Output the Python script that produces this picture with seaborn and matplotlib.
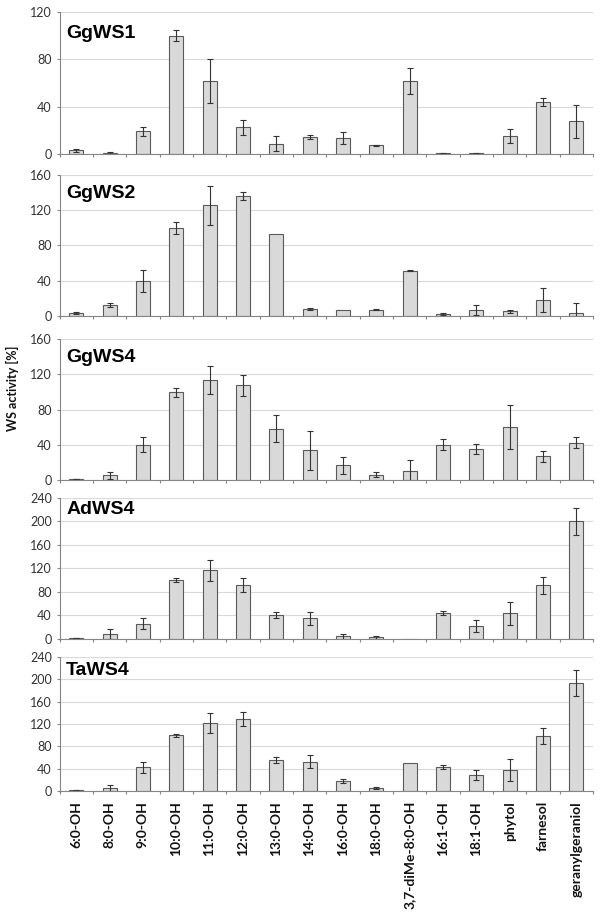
import numpy as np
import pandas as pd
import seaborn as sns
import matplotlib.pyplot as plt

# substrates tested (x axis)
substrates = ['6:0-OH', '8:0-OH', '9:0-OH', '10:0-OH', '11:0-OH', '12:0-OH',
              '13:0-OH', '14:0-OH', '16:0-OH', '18:0-OH', '3,7-diMe-8:0-OH',
              '16:1-OH', '18:1-OH', 'phytol', 'farnesol', 'geranylgeraniol']

enzymes = ['GgWS1', 'GgWS2', 'GgWS4', 'AdWS4', 'TaWS4']

# WS activity [%], with error bars
ggws1_mean = [3.0, 1.1, 19.2, 100, 62, 22.4, 8.8, 14.2, 13.6, 7.4, 61.4, 0.5, 0.5, 15.3, 43.6, 27.5]
ggws1_err = [1.2, 0.7, 3.8, 4.5, 18.7, 6.6, 6.4, 1.9, 4.8, 0.5, 10.9, 0.3, 0.5, 6.0, 3.4, 13.7]

ggws2_mean = [2.6, 12.1, 39.3, 99.8, 125.6, 136.2, 93.4, 7.9, 6.4, 6.8, 51.4, 1.9, 6.8, 4.9, 17.4, 3.0]
ggws2_err = [1.1, 2.3, 12.7, 7.0, 22.0, 4.4, 0, 1.0, 0, 0.5, 0.5, 1.0, 5.5, 1.7, 13.6, 11.0]

ggws4_mean = [1.5, 5.7, 40.5, 99.8, 113.8, 107.8, 58.2, 34.0, 17.0, 6.4, 11.0, 40.5, 35.2, 60.5, 27.2, 42.4]
ggws4_err = [0.3, 4.2, 8.0, 5.0, 16.0, 12.0, 15.2, 22.0, 9.8, 2.9, 11.8, 6.0, 5.8, 24.6, 6.2, 6.2]

adws4_mean = [1.1, 8.0, 25.8, 100.2, 116.8, 91.6, 40.0, 34.4, 4.0, 2.3, 0, 43.5, 21.2, 43.0, 91.0, 199.9]
adws4_err = [0.3, 7.7, 8.9, 2.9, 17.8, 12.0, 5.2, 10.3, 4.0, 2.5, 0, 4.0, 10.0, 19.5, 14.3, 22.6]

taws4_mean = [1.8, 6.0, 42.8, 100.1, 121.8, 128.5, 55.5, 53.0, 18.1, 6.0, 50.0, 43.4, 29.0, 38.0, 98.0, 193.6]
taws4_err = [0.6, 5.4, 9.3, 2.4, 17.2, 12.6, 4.8, 10.9, 3.9, 2.4, 0, 3.9, 9.7, 19.3, 14.0, 23.0]

means = [ggws1_mean, ggws2_mean, ggws4_mean, adws4_mean, taws4_mean]
errs = [ggws1_err, ggws2_err, ggws4_err, adws4_err, taws4_err]
ymax = [120, 160, 160, 240, 240]

# panel layout in pixels (top, bottom) and title offset below the top
W, H = 600, 918
panel_px = [(12, 154), (175, 315.7), (339, 480.3), (497.7, 638.7), (656.7, 791.3)]
title_off = [9.0, 7.0, 7.5, 2.5, 3.5]
left_px, right_px = 59.5, 593

sns.set_style("white")
plt.rcParams['font.family'] = ['Lato', 'DejaVu Sans']

fig = plt.figure(figsize=(W / 100, H / 100), dpi=100)

for i, name in enumerate(enzymes):
    top, bot = panel_px[i]
    ax = fig.add_axes([left_px / W, 1 - bot / H, (right_px - left_px) / W, (bot - top) / H])
    df = pd.DataFrame({'substrate': substrates, 'activity': means[i]})
    sns.barplot(data=df, x='substrate', y='activity', color='#d9d9d9', saturation=1,
                width=0.42, edgecolor='#5a5a5a', linewidth=0.8, ax=ax, zorder=3)
    err = np.array(errs[i])
    pos = np.arange(len(substrates))
    keep = err > 0
    ax.errorbar(pos[keep], np.array(means[i])[keep], yerr=err[keep], fmt='none',
                ecolor='#333333', elinewidth=0.8, capsize=2.5, capthick=0.8, zorder=4)

    ax.set_xlim(-0.5, len(substrates) - 0.5)
    ax.set_ylim(0, ymax[i])
    ax.set_yticks(np.arange(0, ymax[i] + 1, 40))
    ax.yaxis.grid(True, color='#d9d9d9', linewidth=0.8)
    ax.set_axisbelow(True)
    ax.set_xlabel('')
    ax.set_ylabel('')
    for s in ['top', 'right']:
        ax.spines[s].set_visible(False)
    for s in ['left', 'bottom']:
        ax.spines[s].set_color('#868686')
        ax.spines[s].set_linewidth(0.8)
        ax.spines[s].set_zorder(5)

    ax.tick_params(axis='y', length=2.5, width=0.8, color='#868686', pad=3,
                   labelsize=9, labelcolor='#333333', left=True)
    ax.set_xticks(np.arange(-0.5, len(substrates)), minor=True)
    ax.tick_params(axis='x', which='major', length=0, pad=7)
    ax.tick_params(axis='x', which='minor', length=2.5, width=0.8, color='#868686',
                   bottom=True, direction='out')
    if i < len(enzymes) - 1:
        ax.set_xticklabels([])
    else:
        ax.set_xticklabels(substrates, rotation=90, fontsize=10, fontweight='bold',
                           ha='center', va='top', color='#111111')

    ax.annotate(name, xy=(0, 1), xycoords='axes fraction', xytext=(4.8, -title_off[i]),
                textcoords='offset points', ha='left', va='top', fontsize=14,
                fontweight='bold', family='Liberation Sans', color='black')

fig.text(12.8 / W, 1 - 388 / H, 'WS activity [%]', rotation=90, ha='center', va='center',
         fontsize=9, fontweight='bold', color='#111111')

fig.savefig('out.png', dpi=100)
